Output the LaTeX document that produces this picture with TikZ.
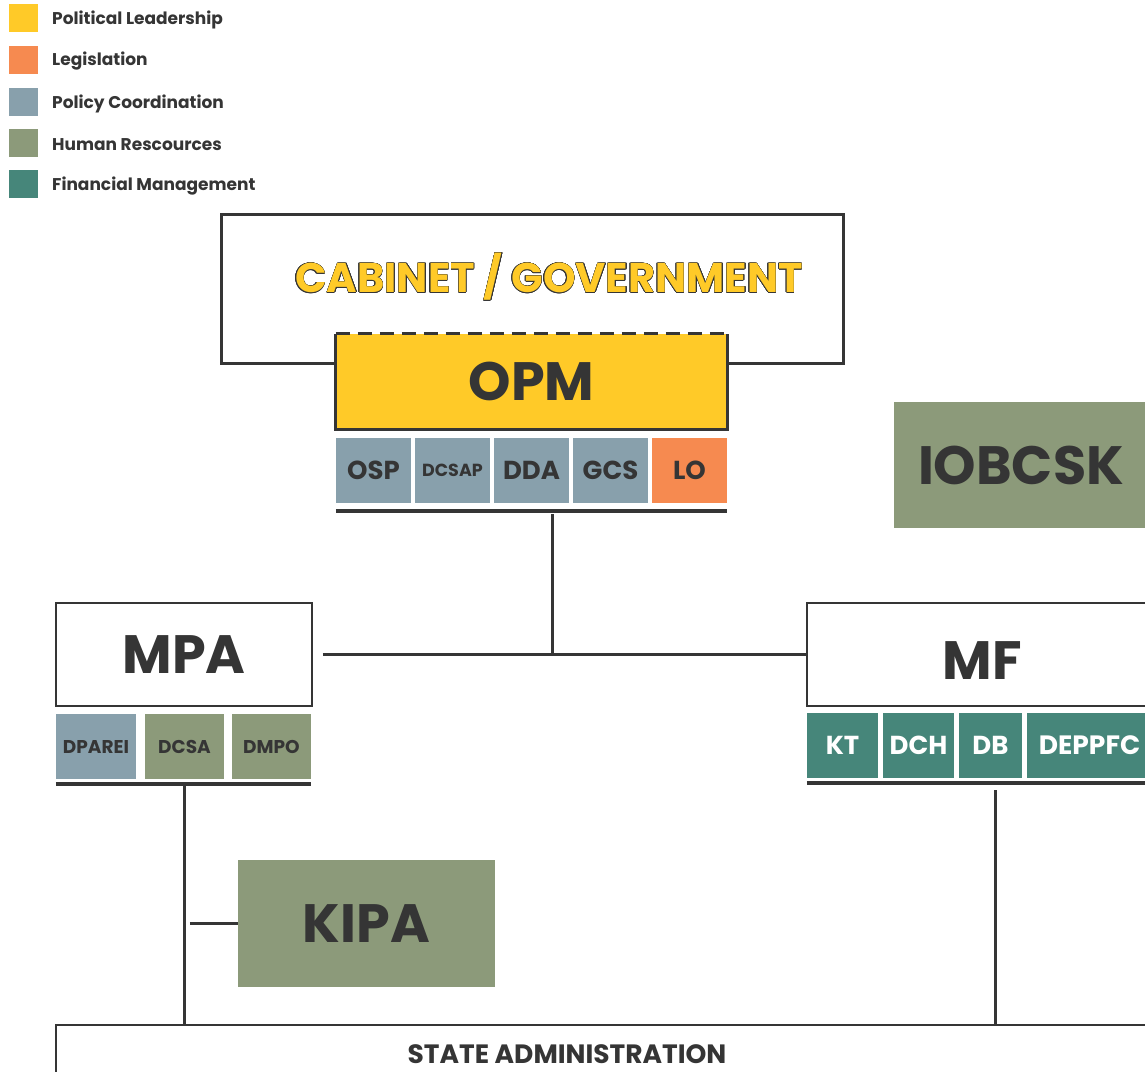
\documentclass[tikz,border=0pt]{standalone}
\usepackage{fontspec}
\setmainfont{Poppins}
\usepackage{contour}
\contourlength{0.5pt}
\definecolor{ink}{HTML}{353535}
\definecolor{leader}{HTML}{FFCA28}
\definecolor{legis}{HTML}{F68A50}
\definecolor{policy}{HTML}{88A0AC}
\definecolor{human}{HTML}{8C9A7A}
\definecolor{finance}{HTML}{46867A}
\begin{document}
\begin{tikzpicture}[x=1pt,y=-1pt,
		frame/.style={draw=ink,line width=1.5pt,fill=white,inner sep=0pt},
		big/.style={text=ink,font=\fontsize{54pt}{54pt}\selectfont\bfseries},
		unit/.style={fill=#1,inner sep=0pt,minimum height=65pt,text=ink,font=\fontsize{26pt}{26pt}\selectfont\bfseries},
		small/.style={font=\fontsize{18.5pt}{18.5pt}\selectfont\bfseries},
		key/.style={fill=#1,inner sep=0pt,minimum width=29pt,minimum height=28pt},
		keytext/.style={anchor=west,inner sep=0pt,text=ink,font=\fontsize{17pt}{17pt}\selectfont\bfseries},
		link/.style={draw=ink,line width=3pt},
		bar/.style={draw=ink,line width=4pt}]
				\useasboundingbox (0,0) rectangle (1145,1071);
				\fill[white] (0,0) rectangle (1145,1071);
				\clip (0,0) rectangle (1145,1071);
				
				\node[key=leader] (k1) at (23.5,18) {};
				\node[key=legis] (k2) at (23.5,59.5) {};
				\node[key=policy] (k3) at (23.5,101.5) {};
				\node[key=human] (k4) at (23.5,142.5) {};
				\node[key=finance] (k5) at (23.5,184) {};
				\node[keytext] (t1) at (52,20) {Political Leadership};
				\node[keytext] (t2) at (52,61.5) {Legislation};
				\node[keytext] (t3) at (52,103.5) {Policy Coordination};
				\node[keytext] (t4) at (52,144.5) {Human Rescources};
				\node[keytext] (t5) at (52,186) {Financial Management};
				
				\node[draw=ink,line width=3pt,inner sep=0pt,minimum width=622pt,minimum height=149pt] (cab) at (532,288.5) {};
				\node[font=\fontsize{41.5pt}{41.5pt}\selectfont\bfseries] (cabtext) at (549,277) {\contour{ink}{\textcolor{leader}{CABINET / GOVERNMENT}}};
				
				\node[fill=leader,inner sep=0pt,minimum width=391pt,minimum height=95pt,big] (opm) at (531.5,381.5) {OPM};
				\draw[link] (opm.north west) -- (opm.south west) -- (opm.south east) -- (opm.north east);
				\draw[link,dash pattern=on 14pt off 8pt] (opm.north west) -- (opm.north east);
				
				\node[unit=policy,minimum width=75pt] (osp) at (373.5,470.5) {OSP};
				\node[unit=policy,minimum width=75pt,font=\fontsize{17.5pt}{17.5pt}\selectfont\bfseries] (dcsap) at (452.5,470.5) {DCSAP};
				\node[unit=policy,minimum width=75pt] (dda) at (531.5,470.5) {DDA};
				\node[unit=policy,minimum width=75pt] (gcs) at (610.5,470.5) {GCS};
				\node[unit=legis,minimum width=75pt] (lo) at (689.5,470.5) {LO};
				\draw[bar] ([yshift=-8pt]osp.south west) -- ([yshift=-8pt]lo.south east);
				
				\node[frame,minimum width=256pt,minimum height=103pt,big] (mpa) at (184,654.5) {MPA};
				\node[unit=policy,minimum width=80pt,small] (dparei) at (96,746.5) {DPAREI};
				\node[unit=human,minimum width=79pt,small] (dcsa) at (184.5,746.5) {DCSA};
				\node[unit=human,minimum width=79pt,small] (dmpo) at (271.5,746.5) {DMPO};
				\draw[bar] ([yshift=-5pt]dparei.south west) -- ([yshift=-5pt]dmpo.south east);
				
				\node[frame,minimum width=350pt,minimum height=103pt] (mf) at (982,654.5) {};
				\node[big] (mftext) at (982,661) {MF};
				\node[unit=finance,minimum width=71pt,text=white] (kt) at (842.5,745) {KT};
				\node[unit=finance,minimum width=71pt,text=white] (dch) at (918.5,745) {DCH};
				\node[unit=finance,minimum width=63pt,text=white] (db) at (990.5,745) {DB};
				\node[unit=finance,minimum width=125pt,text=white,font=\fontsize{26.5pt}{26.5pt}\selectfont\bfseries] (deppfc) at (1089.5,745) {DEPPFC};
				\draw[bar] ([yshift=-5pt]kt.south west) -- ([xshift=20pt,yshift=-5pt]deppfc.south east);
				
				\node[fill=human,inner sep=0pt,minimum width=254pt,minimum height=126pt,big] (iobcsk) at (1021,465) {IOBCSK};
				\node[fill=human,inner sep=0pt,minimum width=257pt,minimum height=127pt,big] (kipa) at (366.5,923.5) {KIPA};
				
				\node[draw=ink,line width=2.5pt,fill=white,inner sep=0pt,minimum width=1100pt,minimum height=100pt] (state) at (606,1075) {};
				\node[text=ink,font=\fontsize{26.5pt}{26.5pt}\selectfont\bfseries] (statetext) at (567,1054) {STATE ADMINISTRATION};
				
				\coordinate (opmfoot) at (552,514);
				\coordinate (hub) at (552,654.5);
				\coordinate (mpafoot) at (184,786);
				\coordinate (mffoot) at (995,790);
				
				\draw[link] (opmfoot) -- (hub);
				\draw[link] ([xshift=10pt]mpa.east) -- (mf.west);
				\draw[link] (mpafoot) -- (mpafoot |- state.north);
				\draw[link] ([xshift=-48pt]kipa.west) -- (kipa.west);
				\draw[link] (mffoot) -- (mffoot |- state.north);
\end{tikzpicture}
\end{document}
